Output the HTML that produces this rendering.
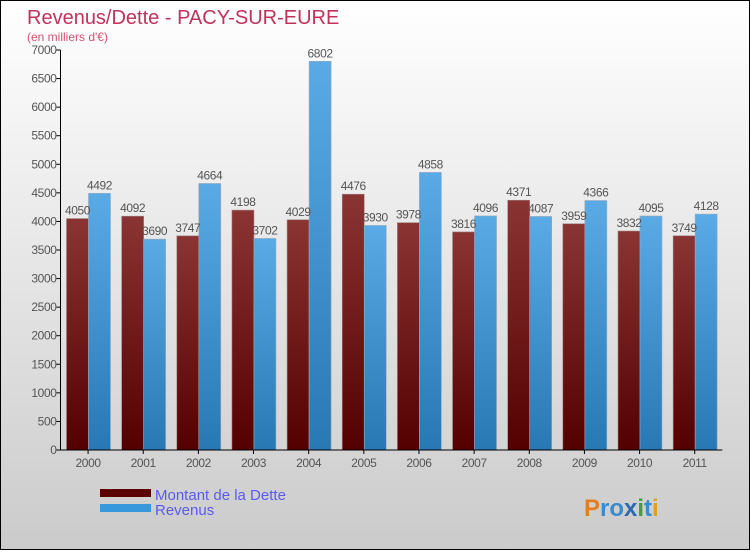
<!DOCTYPE html>
<html><head><meta charset="utf-8"><style>
body{margin:0}
#c{width:748px;height:548px;border:1px solid #000;background:linear-gradient(#fff,#cbcbcb);position:relative;font-family:"Liberation Sans",sans-serif}
</style></head><body>
<div id="c">
<svg id="s" width="748" height="548"></svg>
</div>
<script>
const years=["2000","2001","2002","2003","2004","2005","2006","2007","2008","2009","2010","2011"];
const dette=[4050,4092,3747,4198,4029,4476,3978,3816,4371,3959,3832,3749];
const revenus=[4492,3690,4664,3702,6802,3930,4858,4096,4087,4366,4095,4128];
const ticks=[0,500,1000,1500,2000,2500,3000,3500,4000,4500,5000,5500,6000,6500,7000];
const NS="http://www.w3.org/2000/svg",s=document.getElementById('s');
const X0=59.5,Y0=449,H=400,MAX=7000,SL=55.15;
const y=v=>Y0-v/MAX*H;
const x=i=>X0+i*SL;
function mk(t,a,p){const e=document.createElementNS(NS,t);for(const k in a)e.setAttribute(k,a[k]);(p||s).appendChild(e);return e;}
const defs=mk('defs',{});
let g1=mk('linearGradient',{id:'gd',x1:0,y1:0,x2:0,y2:1},defs);
mk('stop',{offset:0,'stop-color':'#8a3434'},g1);mk('stop',{offset:1,'stop-color':'#550000'},g1);
let g2=mk('linearGradient',{id:'gr',x1:0,y1:0,x2:0,y2:1},defs);
mk('stop',{offset:0,'stop-color':'#5aaae6'},g2);mk('stop',{offset:1,'stop-color':'#2878b4'},g2);
let t=mk('text',{x:26,y:23,'font-size':20,fill:'#c0325a'});t.textContent='Revenus/Dette - PACY-SUR-EURE';

t=mk('text',{x:26,y:40,'font-size':12,fill:'#d05070'});t.textContent="(en milliers d'€)";

ticks.forEach(v=>{mk('line',{x1:X0-4,x2:X0,y1:y(v),y2:y(v),stroke:'#000'});
 let e=mk('text',{x:X0-4,y:y(v)+4,'font-size':12,'text-anchor':'end',fill:'#555','letter-spacing':'-0.4'});e.textContent=v;
 });
years.forEach((yr,i)=>{
 const bx=x(i)+6;
 let r=mk('rect',{x:bx,y:y(dette[i]),width:22,height:Y0-y(dette[i]),fill:'url(#gd)',stroke:'#a08080','stroke-width':0.6});
 
 r=mk('rect',{x:bx+22,y:y(revenus[i]),width:22,height:Y0-y(revenus[i]),fill:'url(#gr)',stroke:'#9ab','stroke-width':0.6});
 
 let e=mk('text',{x:bx+11,y:y(dette[i])-4,'font-size':12,'text-anchor':'middle',fill:'#555','letter-spacing':'-0.4'});e.textContent=dette[i];
 
 e=mk('text',{x:bx+33,y:y(revenus[i])-4,'font-size':12,'text-anchor':'middle',fill:'#555','letter-spacing':'-0.4'});e.textContent=revenus[i];
 
 mk('line',{x1:x(i)+SL/2,x2:x(i)+SL/2,y1:Y0,y2:Y0+4,stroke:'#000'});
 e=mk('text',{x:x(i)+SL/2,y:Y0+17,'font-size':12,'text-anchor':'middle',fill:'#555','letter-spacing':'-0.4'});e.textContent=yr;
 
});
mk('line',{x1:X0,x2:X0,y1:y(7000),y2:Y0,stroke:'#000'});
mk('line',{x1:X0,x2:X0+12*SL,y1:Y0,y2:Y0,stroke:'#000'});
let l=mk('rect',{x:99,y:488,width:51,height:8,fill:'#5a0000'});
l=mk('rect',{x:99,y:503,width:51,height:8,fill:'#3898dc'});
t=mk('text',{x:154,y:499,'font-size':15,fill:'#5a5aee'});t.textContent='Montant de la Dette';
t=mk('text',{x:154,y:514,'font-size':15,fill:'#5a5aee'});t.textContent='Revenus';
t=mk('text',{x:583,y:515,'font-size':24,'font-weight':'bold',fill:'#3a8ad0'});t.innerHTML='<tspan fill="#e08020">P</tspan>ro<tspan fill="#2a6ab0">x</tspan><tspan fill="#40a040">i</tspan>t<tspan fill="#e0a020">i</tspan>';

</script>
</body></html>
